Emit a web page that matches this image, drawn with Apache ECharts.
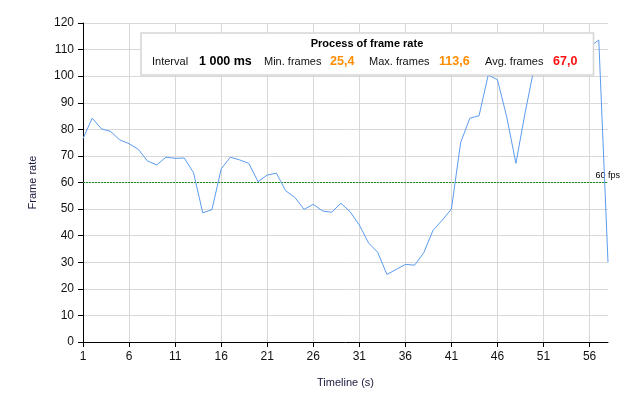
<!DOCTYPE html>
<html><head><meta charset="utf-8">
<script src="https://cdn.jsdelivr.net/npm/echarts@6/dist/echarts.min.js"></script>
<style>html,body{margin:0;padding:0;background:#fff}#c{width:628px;height:404px}</style>
</head><body><div id="c"></div>
<script>
const categories = ['1','2','3','4','5','6','7','8','9','10','11','12','13','14','15','16','17','18','19','20','21','22','23','24','25','26','27','28','29','30','31','32','33','34','35','36','37','38','39','40','41','42','43','44','45','46','47','48','49','50','51','52','53','54','55','56','57','58'];
const frameRate = [76.5, 84.2, 80.2, 79.2, 76.0, 74.6, 72.5, 68.1, 66.6, 69.5,
  69.1, 69.2, 63.7, 48.6, 49.8, 65.1, 69.5, 68.5, 67.2, 60.3,
  62.8, 63.5, 56.9, 54.4, 49.9, 51.8, 49.3, 48.8, 52.2, 49.0,
  44.0, 37.3, 33.7, 25.4, 27.3, 29.2, 28.9, 33.6, 42.0, 45.8,
  50.0, 75.0, 84.2, 85.1, 100.5, 98.6, 84.8, 67.2, 86.2, 103.5,
  107.0, 103.0, 108.0, 106.0, 108.1, 111.0, 113.6, 30.0];
const targetFps = 60;
const targetLabel = '60 fps';
const boxTitle = 'Process of frame rate';
const statLabels = ['Interval', 'Min. frames', 'Max. frames', 'Avg. frames'];
const statValues = ['1 000 ms', '25,4', '113,6', '67,0'];
const statColors = ['#000000', '#ff8c00', '#ff8c00', '#ff1010'];

const FONT = '"Liberation Sans", Arial, sans-serif';
const chart = echarts.init(document.getElementById('c'));

const labelX = [152, 264, 369, 485];
const valueX = [199, 330, 439, 553];
const rowY = 62;
const graphics = [
  { type: 'rect', z: 100, shape: { x: 141, y: 33, width: 452.5, height: 42 },
    style: { fill: '#ffffff', stroke: '#d6d6d6', lineWidth: 1.6 } },
  { type: 'text', z: 101, x: 367, y: 44,
    style: { text: boxTitle, font: 'bold 11px ' + FONT, fill: '#000', textAlign: 'center', textVerticalAlign: 'middle' } }
];
statLabels.forEach((t, i) => {
  graphics.push({ type: 'text', z: 101, x: labelX[i], y: rowY,
    style: { text: t, font: '11px ' + FONT, fill: '#111', textAlign: 'left', textVerticalAlign: 'middle' } });
  graphics.push({ type: 'text', z: 101, x: valueX[i], y: rowY,
    style: { text: statValues[i], font: 'bold 12.5px ' + FONT, fill: statColors[i], textAlign: 'left', textVerticalAlign: 'middle' } });
});

chart.setOption({
  animation: false,
  backgroundColor: '#ffffff',
  grid: { left: 83, right: 20, top: 23, bottom: 62, containLabel: false },
  xAxis: {
    type: 'category', data: categories, boundaryGap: false,
    name: 'Timeline (s)', nameLocation: 'middle', nameGap: 35,
    nameTextStyle: { fontFamily: FONT, fontSize: 11, color: '#1a1a40' },
    axisLine: { lineStyle: { color: '#000', width: 1 } },
    axisTick: { show: true, interval: 4, length: 5, lineStyle: { color: '#000' } },
    axisLabel: { interval: 4, fontFamily: FONT, fontSize: 12, color: '#111', margin: 9 },
    splitLine: { show: true, interval: 4, lineStyle: { color: '#d8d8d8', width: 1 } }
  },
  yAxis: {
    type: 'value', min: 0, max: 120, interval: 10,
    name: 'Frame rate', nameLocation: 'middle', nameGap: 45, nameRotate: 90,
    nameTextStyle: { fontFamily: FONT, fontSize: 11, color: '#1a1a40' },
    axisLine: { show: true, lineStyle: { color: '#000', width: 1 } },
    axisTick: { show: true, length: 5, lineStyle: { color: '#000' } },
    axisLabel: { fontFamily: FONT, fontSize: 12, color: '#111', margin: 9 },
    splitLine: { show: true, lineStyle: { color: '#d8d8d8', width: 1 } }
  },
  series: [{
    type: 'line', data: frameRate, showSymbol: false, symbol: 'none',
    lineStyle: { color: '#5b9cf0', width: 1 },
    z: 5,
    markLine: {
      silent: true, symbol: 'none',
      lineStyle: { color: '#1e8a1e', width: 1, type: [2, 1] },
      label: { show: true, formatter: targetLabel, position: 'insideEndTop', distance: [-12, 2],
        fontFamily: FONT, fontSize: 9, color: '#000' },
      data: [{ yAxis: targetFps }]
    }
  }],
  graphic: graphics
});
</script></body></html>
